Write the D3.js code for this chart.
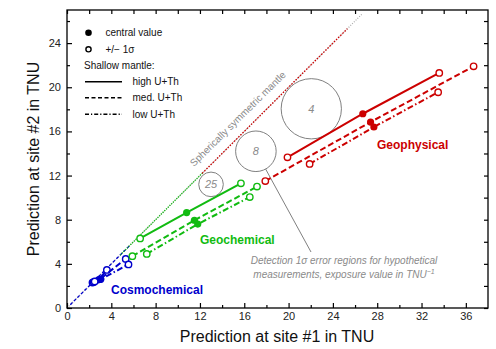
<!DOCTYPE html>
<html>
<head>
<meta charset="utf-8">
<script src="https://cdn.jsdelivr.net/npm/d3@7"></script>
<style>
  body { margin: 0; background: #fff; }
  text { font-family: "Liberation Sans", Arial, sans-serif; }
</style>
</head>
<body>
<script>
// predictions at site #1 / site #2 in TNU
// each series: [lower 1-sigma, central value, upper 1-sigma]
var cosmoHigh = [[2.3, 2.3], [2.85, 2.55], [3.6, 3.45]];
var cosmoMed  = [[2.4, 2.35], [2.95, 2.6], [5.3, 4.45]];
var cosmoLow  = [[2.5, 2.4], [3.05, 2.6], [5.55, 3.95]];

var geochemHigh = [[6.6, 6.3], [10.8, 8.65], [15.7, 11.3]];
var geochemMed  = [[5.9, 4.7], [11.5, 7.95], [17.15, 11.0]];
var geochemLow  = [[7.2, 4.9], [11.8, 7.6], [16.5, 10.05]];

var geophysHigh = [[19.9, 13.65], [26.7, 17.6], [33.6, 21.3]];
var geophysMed  = [[17.9, 11.5], [27.4, 16.85], [36.7, 21.9]];
var geophysLow  = [[21.9, 13.05], [27.7, 16.4], [33.5, 19.55]];

// spherically symmetric mantle (site #1 = site #2), ranges per model
var symRange = [0, 26.6];
var cosmoSym = [0.3, 5.6];
var geochemSym = [4.8, 12.3];
var geophysSym = [12.2, 25.3];

// detection 1-sigma error regions
var exposures = [25, 8, 4];
var exposureCenters = [[13.0, 11.2], [17.05, 14.2], [22.05, 18.05]];
var exposureRadii = [1.11, 1.83, 2.72];

var xTicks = [0, 4, 8, 12, 16, 20, 24, 28, 32, 36];
var yTicks = [0, 4, 8, 12, 16, 20, 24];

var W = 496, H = 349;
var margin = {left: 67, right: 8, top: 10, bottom: 41};

var svg = d3.select("body").append("svg")
  .attr("width", W)
  .attr("height", H);

var x = d3.scaleLinear().domain([0, 38]).range([margin.left, W - margin.right]);
var y = d3.scaleLinear().domain([0, 27]).range([H - margin.bottom, margin.top]);

var red = "#cc0000", green = "#11bb11", blue = "#0000cc", grey = "#8a8a8a";

var dashes = {high: null, med: "6,3", low: "6,2.5,1.5,2.5"};

var groups = [
  {color: blue,  sym: cosmoSym,   symDash: "3,2",     series: [["high", cosmoHigh], ["med", cosmoMed], ["low", cosmoLow]]},
  {color: green, sym: geochemSym, symDash: "1.2,1.2", series: [["high", geochemHigh], ["med", geochemMed], ["low", geochemLow]]},
  {color: red,   sym: geophysSym, symDash: "1.5,1.5", series: [["high", geophysHigh], ["med", geophysMed], ["low", geophysLow]]}
];

// spherically symmetric mantle line
svg.append("line")
  .attr("x1", x(symRange[0])).attr("y1", y(symRange[0]))
  .attr("x2", x(symRange[1])).attr("y2", y(symRange[1]))
  .attr("stroke", "#aaa").attr("stroke-width", 1.2)
  .attr("stroke-dasharray", "1,1.5");

groups.forEach(function (g) {
  svg.append("line")
    .attr("x1", x(g.sym[0])).attr("y1", y(g.sym[0]))
    .attr("x2", x(g.sym[1])).attr("y2", y(g.sym[1]))
    .attr("stroke", g.color).attr("stroke-width", 1.3)
    .attr("stroke-dasharray", g.symDash);
});

svg.append("text")
  .attr("transform", "translate(194,167) rotate(-44.7)")
  .attr("font-size", 10).attr("fill", grey)
  .text("Spherically symmetric mantle");

// error circles
var circ = svg.selectAll("g.expo").data(exposures).enter().append("g");
circ.append("circle")
  .attr("cx", function (d, i) { return x(exposureCenters[i][0]); })
  .attr("cy", function (d, i) { return y(exposureCenters[i][1]); })
  .attr("r", function (d, i) { return x(exposureRadii[i]) - x(0); })
  .attr("fill", "none").attr("stroke", "#808080").attr("stroke-width", 1);
circ.append("text")
  .attr("x", function (d, i) { return x(exposureCenters[i][0]); })
  .attr("y", function (d, i) { return y(exposureCenters[i][1]) + 4; })
  .attr("text-anchor", "middle")
  .attr("font-size", 11).attr("font-style", "italic").attr("fill", grey)
  .text(function (d) { return d; });

// pointer to annotation
var c8 = exposureCenters[1], r8 = x(exposureRadii[1]) - x(0);
var px = x(c8[0]), py = y(c8[1]);
var ex = 311, ey = 252;
var ang = Math.atan2(ey - py, ex - px);
svg.append("line")
  .attr("x1", px + r8 * Math.cos(ang)).attr("y1", py + r8 * Math.sin(ang))
  .attr("x2", ex).attr("y2", ey)
  .attr("stroke", "#808080").attr("stroke-width", 1);

var note = svg.append("text")
  .attr("text-anchor", "middle")
  .attr("font-size", 10).attr("font-style", "italic").attr("fill", grey);
note.append("tspan").attr("x", 344).attr("y", 264)
  .text("Detection 1\u03c3 error regions for hypothetical");
var l2 = note.append("tspan").attr("x", 344).attr("y", 278)
  .text("measurements, exposure value in TNU");
l2.append("tspan").attr("dy", -4).attr("font-size", 7).text("\u22121");

// model series
groups.forEach(function (g) {
  g.series.forEach(function (s) {
    var pts = s[1];
    svg.append("path")
      .attr("d", d3.line().x(function (d) { return x(d[0]); }).y(function (d) { return y(d[1]); })(pts))
      .attr("fill", "none").attr("stroke", g.color).attr("stroke-width", 2)
      .attr("stroke-dasharray", dashes[s[0]]);
    svg.selectAll(null).data([pts[0], pts[2]]).enter().append("circle")
      .attr("cx", function (d) { return x(d[0]); })
      .attr("cy", function (d) { return y(d[1]); })
      .attr("r", 3.2)
      .attr("fill", "#fff").attr("stroke", g.color).attr("stroke-width", 1.4);
    svg.append("circle")
      .attr("cx", x(pts[1][0])).attr("cy", y(pts[1][1]))
      .attr("r", 3.6).attr("fill", g.color);
  });
});

svg.append("text").attr("x", 377).attr("y", 149)
  .attr("font-size", 12).attr("font-weight", "bold").attr("fill", red).text("Geophysical");
svg.append("text").attr("x", 200).attr("y", 244)
  .attr("font-size", 12).attr("font-weight", "bold").attr("fill", green).text("Geochemical");
svg.append("text").attr("x", 111).attr("y", 294)
  .attr("font-size", 12).attr("font-weight", "bold").attr("fill", blue).text("Cosmochemical");

// legend
var lg = svg.append("g").attr("font-size", 10).attr("fill", "#111");
lg.append("circle").attr("cx", 88.5).attr("cy", 32.7).attr("r", 3.3).attr("fill", "#000");
lg.append("text").attr("x", 105.5).attr("y", 36.3).text("central value");
lg.append("circle").attr("cx", 88.5).attr("cy", 49.3).attr("r", 2.6)
  .attr("fill", "#fff").attr("stroke", "#000").attr("stroke-width", 1.4);
lg.append("text").attr("x", 105.5).attr("y", 52.8).text("+/\u2212 1\u03c3");
lg.append("text").attr("x", 84).attr("y", 69).text("Shallow mantle:");
var legLines = [["high", "high U+Th", 81.7], ["med", "med. U+Th", 97.7], ["low", "low U+Th", 114.3]];
legLines.forEach(function (l) {
  lg.append("line").attr("x1", 85).attr("x2", 122).attr("y1", l[2]).attr("y2", l[2])
    .attr("stroke", "#000").attr("stroke-width", 1.4)
    .attr("stroke-dasharray", l[0] === "high" ? null : (l[0] === "med" ? "4,2.5" : "4,2,1.2,2"));
  lg.append("text").attr("x", 132.5).attr("y", l[2] + 3.5).text(l[1]);
});

// axes box with inward ticks
var plotB = H - margin.bottom, plotR = W - margin.right;
function styleAxis(sel) {
  sel.select(".domain").remove();
  sel.selectAll("line").attr("stroke", "#000").attr("stroke-width", 1.2);
  sel.selectAll("text").attr("font-size", 11).attr("fill", "#222")
    .attr("font-family", "\"Liberation Sans\", Arial, sans-serif");
}
var xMinor = d3.range(2, 38, 4), yMinor = d3.range(2, 27, 4);

svg.append("g").attr("transform", "translate(0," + plotB + ")")
  .call(d3.axisBottom(x).tickValues(xTicks).tickSizeInner(-5).tickSizeOuter(0).tickPadding(4))
  .call(styleAxis);
svg.append("g").attr("transform", "translate(0," + plotB + ")")
  .call(d3.axisBottom(x).tickValues(xMinor).tickSizeInner(-3).tickSizeOuter(0).tickFormat(""))
  .call(styleAxis);
svg.append("g").attr("transform", "translate(0," + margin.top + ")")
  .call(d3.axisTop(x).tickValues(xTicks.concat(xMinor)).tickSizeInner(-4).tickSizeOuter(0).tickFormat(""))
  .call(styleAxis);
svg.append("g").attr("transform", "translate(" + margin.left + ",0)")
  .call(d3.axisLeft(y).tickValues(yTicks).tickSizeInner(-5).tickSizeOuter(0).tickPadding(6))
  .call(styleAxis);
svg.append("g").attr("transform", "translate(" + margin.left + ",0)")
  .call(d3.axisLeft(y).tickValues(yMinor).tickSizeInner(-3).tickSizeOuter(0).tickFormat(""))
  .call(styleAxis);
svg.append("g").attr("transform", "translate(" + plotR + ",0)")
  .call(d3.axisRight(y).tickValues(yTicks.concat(yMinor)).tickSizeInner(-4).tickSizeOuter(0).tickFormat(""))
  .call(styleAxis);

svg.append("rect")
  .attr("x", margin.left).attr("y", margin.top)
  .attr("width", plotR - margin.left).attr("height", plotB - margin.top)
  .attr("fill", "none").attr("stroke", "#000").attr("stroke-width", 1.3);

svg.append("text").attr("x", 277).attr("y", 342).attr("text-anchor", "middle")
  .attr("font-size", 16).attr("fill", "#111").text("Prediction at site #1 in TNU");
svg.append("text").attr("transform", "translate(39,159) rotate(-90)").attr("text-anchor", "middle")
  .attr("font-size", 16).attr("fill", "#111").text("Prediction at site #2 in TNU");
</script>
</body>
</html>
